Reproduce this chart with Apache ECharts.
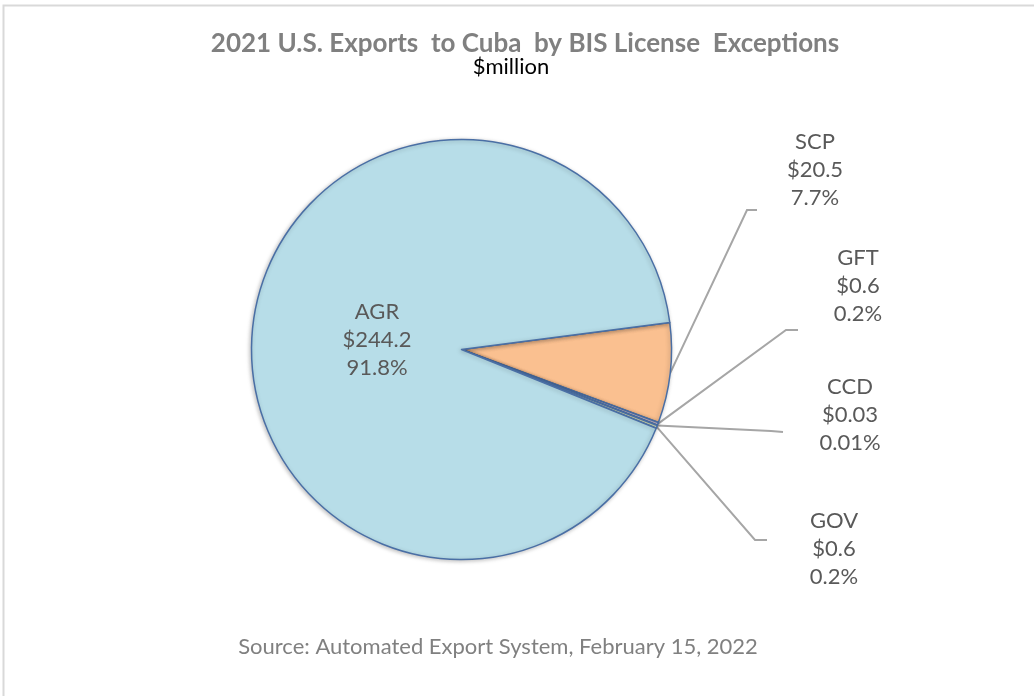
<!DOCTYPE html>
<html lang="en">
<head>
    <meta charset="UTF-8">
    <title>2021 U.S. Exports to Cuba by BIS License Exceptions</title>
    <script src="https://cdn.jsdelivr.net/npm/echarts@6/dist/echarts.min.js"></script>
    <style>
        html, body { margin: 0; padding: 0; background: #fff; }
    </style>
</head>
<body>
<div id="mybox" style="width: 1034px; height: 696px;"></div>
<script>
    // data, $ million
    var categories = ['SCP', 'GFT', 'CCD', 'GOV', 'AGR'];
    var values = [20.5, 0.6, 0.03, 0.6, 244.2];
    var colors = ['#fac090', '#ccc1da', '#c0504d', '#d7e4bd', '#b7dde8'];

    // where each label text sits, and the elbow of its leader line
    var labelPos = {
        SCP: { x: 815, y: 170, elbow: [747, 210], end: [757, 210] },
        GFT: { x: 858, y: 286, elbow: [786, 330], end: [798, 330] },
        CCD: { x: 850, y: 415, elbow: [771, 431], end: [783, 432] },
        GOV: { x: 834, y: 549, elbow: [755, 540], end: [767, 540] },
        AGR: { x: 377, y: 340 }
    };

    var font = 'Lato, "Open Sans", sans-serif';

    var pieData = categories.map(function (name, i) {
        var item = { name: name, value: values[i], itemStyle: { color: colors[i] } };
        if (name === 'AGR') {
            item.label = { position: 'inside' };
            item.labelLine = { show: false };
        }
        return item;
    });

    var mychart = echarts.init(document.getElementById('mybox'));
    mychart.setOption({
        animation: false,
        graphic: [
            {
                type: 'rect',
                shape: { x: 3.5, y: 5.5, width: 1200, height: 900 },
                style: { fill: null, stroke: '#d9d9d9', lineWidth: 2 },
                silent: true
            },
            {
                type: 'text', x: 525, y: 44,
                style: {
                    text: '2021 U.S. Exports  to Cuba  by BIS License  Exceptions',
                    fill: '#808080', font: 'bold 26px ' + font,
                    textAlign: 'center', textVerticalAlign: 'middle'
                }
            },
            {
                type: 'text', x: 511, y: 67,
                style: {
                    text: '$million', fill: '#000', font: '22px ' + font,
                    textAlign: 'center', textVerticalAlign: 'middle'
                }
            },
            {
                type: 'text', x: 498, y: 647,
                style: {
                    text: 'Source: Automated Export System, February 15, 2022',
                    fill: '#808080', font: '22px ' + font,
                    textAlign: 'center', textVerticalAlign: 'middle'
                }
            }
        ],
        series: [{
            name: 'Exports',
            type: 'pie',
            center: [461.5, 349.5],
            radius: 210,
            startAngle: 7.4,
            clockwise: true,
            avoidLabelOverlap: false,
            percentPrecision: 3,
            itemStyle: {
                borderColor: '#4a6fa5',
                borderWidth: 1.5,
                shadowBlur: 4,
                shadowColor: 'rgba(0,0,0,0.25)',
                shadowOffsetX: -1,
                shadowOffsetY: 1
            },
            label: {
                show: true,
                color: '#595959',
                fontFamily: font,
                fontSize: 22,
                lineHeight: 28,
                align: 'center',
                formatter: function (p) {
                    var pct = p.percent >= 0.1 ? p.percent.toFixed(1) : p.percent.toFixed(2);
                    return p.name + '\n$' + p.value + '\n' + pct + '%';
                }
            },
            labelLine: {
                show: true,
                lineStyle: { color: '#a6a6a6', width: 2 }
            },
            labelLayout: function (params) {
                var name = categories[params.dataIndex];
                var pos = labelPos[name];
                var out = { x: pos.x, y: pos.y, align: 'center', verticalAlign: 'middle' };
                if (pos.elbow && params.labelLinePoints) {
                    out.labelLinePoints = [params.labelLinePoints[0], pos.elbow, pos.end];
                }
                return out;
            },
            emphasis: { disabled: true },
            data: pieData
        }]
    });
</script>
</body>
</html>
